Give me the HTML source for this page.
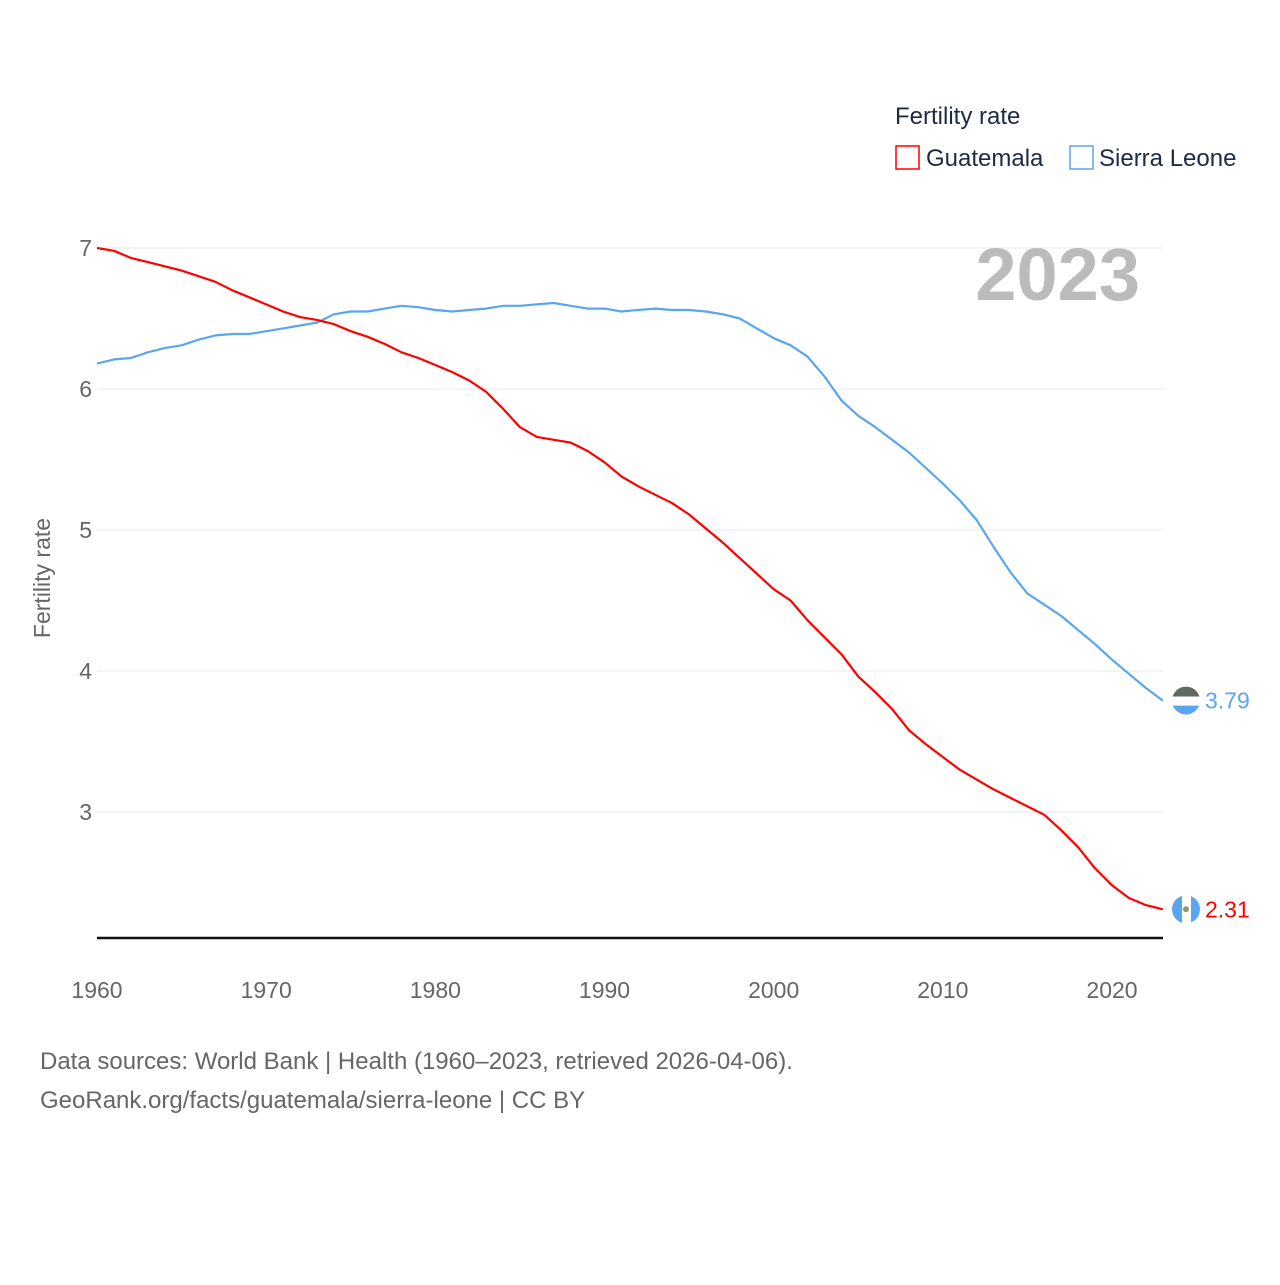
<!DOCTYPE html>
<html><head><meta charset="utf-8">
<style>
html,body{margin:0;padding:0;background:#fff;}
body{width:1280px;height:1280px;overflow:hidden;font-family:"Liberation Sans",sans-serif;}
</style></head>
<body>
<svg id="chart" width="1280" height="1280" viewBox="0 0 1280 1280" xmlns="http://www.w3.org/2000/svg" font-family="Liberation Sans, sans-serif">
  <g id="grid"></g>
  <g id="yticks"></g>
  <g id="xticks"></g>
  <line x1="97" x2="1163" y1="938" y2="938" stroke="#111" stroke-width="2.5"/>
  <text transform="translate(50,578) rotate(-90)" text-anchor="middle" font-size="23" fill="#666">Fertility rate</text>
  <text x="1140" y="300" text-anchor="end" font-size="74" font-weight="bold" fill="#bbbbbb">2023</text>
  <g>
    <text x="895" y="124" font-size="24" fill="#1d2a44">Fertility rate</text>
    <g>
      <rect x="896" y="146" width="23" height="23" fill="none" stroke="#ff0000" stroke-width="1.5"/>
      <text x="926" y="166" font-size="24" fill="#1d2a44">Guatemala</text>
    </g>
    <g>
      <rect x="1070" y="146" width="23" height="23" fill="none" stroke="#5aa5f0" stroke-width="1.5"/>
      <text x="1099" y="166" font-size="24" fill="#1d2a44">Sierra Leone</text>
    </g>
  </g>
  <g id="series"></g>
  <g id="ends"></g>
  <text x="40" y="1069" font-size="24" fill="#666">Data sources: World Bank | Health (1960–2023, retrieved 2026-04-06).</text>
  <text x="40" y="1108" font-size="24" fill="#666">GeoRank.org/facts/guatemala/sierra-leone | CC BY</text>
</svg>
<script>
const years = [];
for (let y = 1960; y <= 2023; y++) years.push(y);
const guatemala = [7.00,6.98,6.93,6.90,6.87,6.84,6.80,6.76,6.70,6.65,6.60,6.55,6.51,6.49,6.46,6.41,6.37,6.32,6.26,6.22,6.17,6.12,6.06,5.98,5.86,5.73,5.66,5.64,5.62,5.56,5.48,5.38,5.31,5.25,5.19,5.11,5.01,4.91,4.80,4.69,4.58,4.50,4.36,4.24,4.12,3.96,3.85,3.73,3.58,3.48,3.39,3.30,3.23,3.16,3.10,3.04,2.98,2.87,2.75,2.60,2.48,2.39,2.34,2.31];
const sierraLeone = [6.18,6.21,6.22,6.26,6.29,6.31,6.35,6.38,6.39,6.39,6.41,6.43,6.45,6.47,6.53,6.55,6.55,6.57,6.59,6.58,6.56,6.55,6.56,6.57,6.59,6.59,6.60,6.61,6.59,6.57,6.57,6.55,6.56,6.57,6.56,6.56,6.55,6.53,6.50,6.43,6.36,6.31,6.23,6.09,5.92,5.81,5.73,5.64,5.55,5.44,5.33,5.21,5.07,4.88,4.70,4.55,4.47,4.39,4.29,4.19,4.08,3.98,3.88,3.79];
const yTicks = [3,4,5,6,7];
const xTicks = [1960,1970,1980,1990,2000,2010,2020];

const NS = "http://www.w3.org/2000/svg";
const xScale = v => 97 + (v - 1960) * (1015 / 60);
const yScale = v => 812 - (v - 3) * 141;
function mk(tag, attrs, parent) {
  const e = document.createElementNS(NS, tag);
  for (const k in attrs) e.setAttribute(k, attrs[k]);
  parent.appendChild(e);
  return e;
}
const grid = document.getElementById('grid');
const yt = document.getElementById('yticks');
yTicks.forEach(t => {
  const l = mk('line', {x1: 97, x2: 1163, y1: yScale(t), y2: yScale(t), stroke: '#e8e8e8', 'stroke-width': 1}, grid);
  
  
  const tx = mk('text', {x: 92, y: yScale(t) + 8, 'text-anchor': 'end', 'font-size': 23, fill: '#666'}, yt);
  tx.textContent = t;
  
  
});
const xt = document.getElementById('xticks');
xTicks.forEach(t => {
  const tx = mk('text', {x: xScale(t), y: 998, 'text-anchor': 'middle', 'font-size': 23, fill: '#666'}, xt);
  tx.textContent = t;
  
  
});
const series = document.getElementById('series');
function drawLine(vals, color, name) {
  const d = vals.map((v, i) => (i ? 'L' : 'M') + xScale(years[i]).toFixed(1) + ',' + yScale(v).toFixed(1)).join(' ');
  const p = mk('path', {d: d, fill: 'none', stroke: color, 'stroke-width': 2.2, 'stroke-linejoin': 'round'}, series);
  
  
}
drawLine(sierraLeone, '#5aa5f0', 'line-sierra-leone');
drawLine(guatemala, '#ff0000', 'line-guatemala');

const ends = document.getElementById('ends');
function endLabel(vals, color, name, flag) {
  const v = vals[vals.length - 1];
  const cx = 1186, cy = yScale(v);
  const g = mk('g', {}, ends);
  
  
  const clipId = 'clip-' + name;
  const cp = mk('clipPath', {id: clipId}, g);
  mk('circle', {cx: cx, cy: cy, r: 14}, cp);
  const fg = mk('g', {'clip-path': 'url(#' + clipId + ')'}, g);
  if (flag === 'sl') {
    mk('rect', {x: cx - 14, y: cy - 14, width: 28, height: 10, fill: '#5e6a62'}, fg);
    mk('rect', {x: cx - 14, y: cy - 4, width: 28, height: 9, fill: '#ffffff'}, fg);
    mk('rect', {x: cx - 14, y: cy + 5, width: 28, height: 10, fill: '#5aa5f0'}, fg);
  } else {
    mk('rect', {x: cx - 14, y: cy - 14, width: 10, height: 28, fill: '#5aa5f0'}, fg);
    mk('rect', {x: cx - 4, y: cy - 14, width: 9, height: 28, fill: '#ffffff'}, fg);
    mk('rect', {x: cx + 5, y: cy - 14, width: 10, height: 28, fill: '#5aa5f0'}, fg);
    mk('circle', {cx: cx, cy: cy, r: 3, fill: '#8a9a6a'}, fg);
  }
  const t = mk('text', {x: 1205, y: cy + 8, 'font-size': 23, fill: color}, g);
  t.textContent = v.toFixed(2);
}
endLabel(sierraLeone, '#5aa5f0', 'end-label-sierra-leone', 'sl');
endLabel(guatemala, '#ff0000', 'end-label-guatemala', 'gt');
</script>
</body></html>
